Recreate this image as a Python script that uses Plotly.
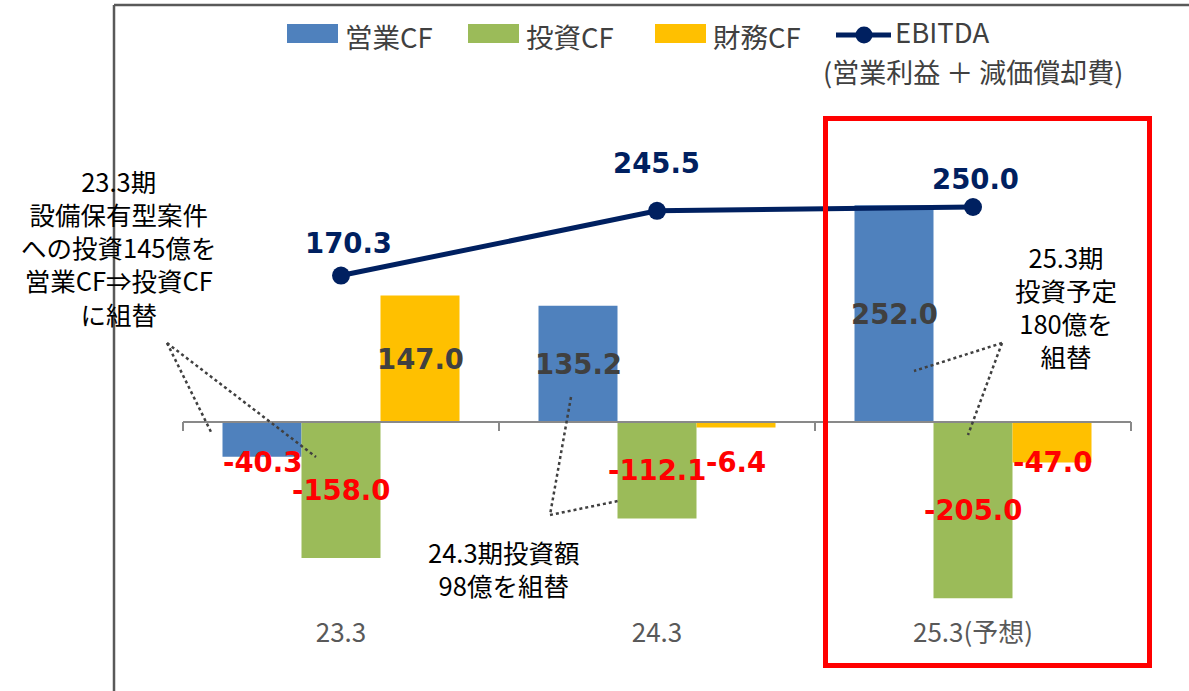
import plotly.graph_objects as go

# ---------------- data ----------------
categories = ["23.3", "24.3", "25.3(予想)"]
series_names = ["営業CF", "投資CF", "財務CF"]
operating_cf = [-40.3, 135.2, 252.0]
investing_cf = [-158.0, -112.1, -205.0]
financing_cf = [147.0, -6.4, -47.0]
ebitda = [170.3, 245.5, 250.0]
ebitda_name = "EBITDA"
ebitda_sub = "(営業利益 ＋ 減価償却費)"
note_23 = ["23.3期", "設備保有型案件", "への投資145億を", "営業CF⇒投資CF", "に組替"]
note_24 = ["24.3期投資額", "98億を組替"]
note_25 = ["25.3期", "投資予定", "180億を", "組替"]

# ---------------- style ----------------
W, H = 1189, 691
BLUE, GREEN, YELLOW = "#4F81BD", "#9BBB59", "#FFC000"
NAVY, RED, DARK = "#002060", "#FF0000", "#404040"
JP = "Noto Sans CJK JP"
NUM = "DejaVu Sans"
K = 0.86          # px per unit
ZERO_PX = 422
BOTTOM_PX = 615
CAT0_PX, CAT_STEP = 341, 316

def px(x):
    return x / W

def py(y):
    return 1 - y / H

series = [operating_cf, investing_cf, financing_cf]
colors = [BLUE, GREEN, YELLOW]

fig = go.Figure()
for name, vals, col in zip(series_names, series, colors):
    fig.add_trace(go.Bar(x=categories, y=vals, name=name, marker=dict(color=col, line=dict(width=0)),
                         showlegend=False, hoverinfo="x+y+name"))
fig.add_trace(go.Scatter(x=categories, y=ebitda, name=ebitda_name, mode="lines+markers",
                         line=dict(color=NAVY, width=5), marker=dict(size=18, color=NAVY),
                         showlegend=False))

ann = []
# bar value labels
offsets = [-0.25, 0.0, 0.25]
for si, vals in enumerate(series):
    for ci, v in enumerate(vals):
        ly = v / 2 if abs(v) >= 80 else -46
        ann.append(dict(x=ci + offsets[si], y=ly, xref="x", yref="y", text=f"{v:.1f}",
                        showarrow=False, xanchor="center", yanchor="middle",
                        font=dict(family=NUM, size=27.5, color=RED if v < 0 else DARK, weight="bold")))
# EBITDA labels
e_yshift = [33, 48, 28]
e_xshift = [7, -1, 2]
for ci, v in enumerate(ebitda):
    ann.append(dict(x=ci, y=v, xref="x", yref="y", text=f"{v:.1f}", showarrow=False,
                    xanchor="center", yanchor="middle", yshift=e_yshift[ci], xshift=e_xshift[ci],
                    font=dict(family=NUM, size=27.5, color=NAVY, weight="bold")))

# notes (one multi-line text each)
def add_note(lines, cx, cy):
    ann.append(dict(x=px(cx), y=py(cy), xref="paper", yref="paper", text="<br>".join(lines),
                    showarrow=False, xanchor="center", yanchor="middle", align="center",
                    font=dict(family=JP, size=25.5, color="#000000")))

add_note(note_23, 118, 247)
add_note(note_24, 504, 568)
add_note(note_25, 1066, 306)

# manual legend
shapes = []
leg_rects = [(287, 338), (468, 519), (655, 706)]
for (x0, x1), name, col in zip(leg_rects, series_names, colors):
    shapes.append(dict(type="rect", xref="paper", yref="paper", x0=px(x0), x1=px(x1), y0=py(24), y1=py(43),
                       fillcolor=col, line=dict(width=0)))
    ann.append(dict(x=px(x1 + 5), y=py(36), xref="paper", yref="paper", text=name, showarrow=False,
                    xanchor="left", yanchor="middle", font=dict(family=JP, size=27.5, color=DARK)))
shapes.append(dict(type="line", xref="paper", yref="paper", x0=px(836), x1=px(891), y0=py(35), y1=py(35),
                   line=dict(color=NAVY, width=5)))
shapes.append(dict(type="circle", xref="paper", yref="paper", x0=px(855.5), x1=px(872.5), y0=py(26.5), y1=py(43.5),
                   fillcolor=NAVY, line=dict(width=0)))
ann.append(dict(x=px(893), y=py(31), xref="paper", yref="paper", text=ebitda_name, showarrow=False,
                xanchor="left", yanchor="middle", font=dict(family=JP, size=27.5, color=DARK)))
ann.append(dict(x=px(973), y=py(71), xref="paper", yref="paper", text=ebitda_sub, showarrow=False,
                xanchor="center", yanchor="middle", font=dict(family=JP, size=27, color=DARK)))

# zero axis with tick marks
shapes.append(dict(type="line", xref="x", yref="y", x0=-0.5, x1=2.5, y0=0, y1=0,
                   line=dict(color="#898989", width=2)))
for tx in [-0.5, 0.5, 1.5, 2.5]:
    shapes.append(dict(type="line", xref="x", yref="y", x0=tx, x1=tx, y0=0, y1=-9 / K,
                       line=dict(color="#898989", width=2)))

# frame (top and left)
shapes.append(dict(type="line", xref="paper", yref="paper", x0=px(114), x1=1, y0=py(5), y1=py(5),
                   line=dict(color="#595959", width=2.5)))
shapes.append(dict(type="line", xref="paper", yref="paper", x0=px(114), x1=px(114), y0=py(5), y1=0,
                   line=dict(color="#595959", width=2.5)))

# red highlight box
shapes.append(dict(type="rect", xref="paper", yref="paper", x0=px(825.5), x1=px(1149.5), y0=py(118.5), y1=py(665.5),
                   line=dict(color=RED, width=5), fillcolor="rgba(0,0,0,0)"))

# dotted leader lines
dots = [((167, 343), (212, 434)), ((167, 343), (316, 457)),
        ((571, 397), (550, 515)), ((550, 515), (618, 501)),
        ((1002, 343), (914, 371)), ((1002, 343), (968, 435))]
for (xa, ya), (xb, yb) in dots:
    shapes.append(dict(type="line", xref="paper", yref="paper", x0=px(xa), y0=py(ya), x1=px(xb), y1=py(yb),
                       line=dict(color=DARK, width=2.5, dash="dot")))

fig.update_layout(
    width=W, height=H, autosize=False,
    margin=dict(l=0, r=0, t=0, b=0),
    paper_bgcolor="white", plot_bgcolor="white",
    barmode="group", bargap=0.25, bargroupgap=0,
    showlegend=False,
    xaxis=dict(type="category", range=[-CAT0_PX / CAT_STEP, (W - CAT0_PX) / CAT_STEP],
               showgrid=False, zeroline=False, showline=False, ticks="",
               tickfont=dict(family=JP, size=26, color="#595959")),
    yaxis=dict(domain=[1 - BOTTOM_PX / H, 1], range=[-(BOTTOM_PX - ZERO_PX) / K, ZERO_PX / K],
               showgrid=False, zeroline=False, showline=False, showticklabels=False, ticks=""),
    annotations=ann, shapes=shapes,
)

fig.write_html("out.html", config={"displayModeBar": False},
               post_script="document.body.style.margin='0';document.body.style.padding='0';"
                           "document.body.style.overflow='hidden';")
